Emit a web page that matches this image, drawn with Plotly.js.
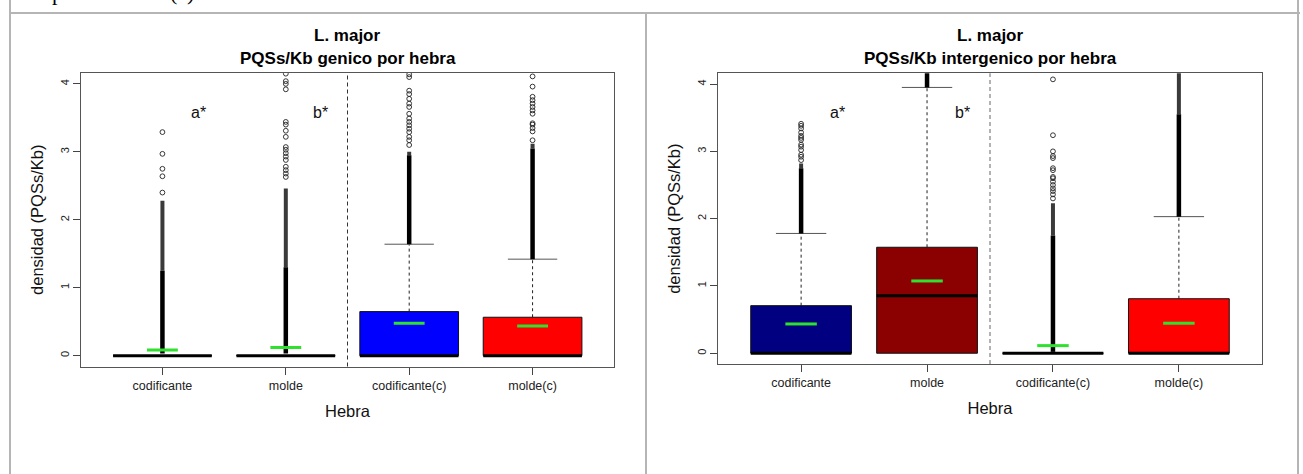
<!DOCTYPE html>
<html><head><meta charset="utf-8">
<script src="https://cdn.plot.ly/plotly-3.0.1.min.js"></script>
<style>
html,body{margin:0;padding:0;background:#fff;overflow:hidden;width:1303px;height:474px;}
#chart{position:absolute;left:0;top:0;width:1303px;height:474px;}
.b{position:absolute;background:#b5b5b5;}
.cut{position:absolute;font-family:'Liberation Serif',serif;font-size:22px;line-height:22px;color:#000;top:-18px;white-space:pre;}
</style></head><body>
<div id="chart"></div>
<div class="cut" style="left:52px">p</div>
<div class="cut" style="left:170px">(c)</div>
<div class="b" style="left:9px;top:0;width:2px;height:474px"></div>
<div class="b" style="left:9px;top:12px;width:1291px;height:2px"></div>
<div class="b" style="left:645px;top:12px;width:2px;height:462px"></div>
<div class="b" style="left:1297px;top:0;width:2px;height:474px"></div>
<script>
// ---- data ----
const categories = ['codificante','molde','codificante(c)','molde(c)'];
const yTicks = [0,1,2,3,4];

// Panel 1: PQSs/Kb genico por hebra
const genQ1     = [0, 0, 0, 0];
const genMedian = [0, 0, 0, 0];
const genQ3     = [0, 0, 0.648, 0.565];
const genUpper  = [0, 0, 1.64, 1.42];
const genMean   = [0.084, 0.118, 0.477, 0.437];
// outliers: solid (very dense) run, then lighter dense run, then individual points
const genDenseLo = [0.03, 0.03, 1.64, 1.42];
const genDenseHi = [1.25, 1.3, 2.95, 3.05];
const genSemiHi  = [2.28, 2.46, 3.0, 3.12];
const genOut1 = [2.4, 2.64, 2.75, 2.97, 3.29];
const genOut2 = [2.63, 2.68, 2.73, 2.78, 2.88, 2.93, 2.98, 3.03, 3.07, 3.22, 3.31, 3.40, 3.44, 3.92, 4.0, 4.04, 4.15];
const genOut3 = [3.1, 3.17, 3.22, 3.29, 3.34, 3.39, 3.44, 3.49, 3.56, 3.66, 3.71, 3.78, 3.85, 3.9, 4.1, 4.14];
const genOut4 = [3.17, 3.30, 3.35, 3.40, 3.42, 3.56, 3.61, 3.66, 3.71, 3.76, 3.81, 3.96, 4.11];

// Panel 2: PQSs/Kb intergenico por hebra
const intQ1     = [0, 0, 0, 0];
const intMedian = [0, 0.856, 0, 0];
const intQ3     = [0.707, 1.575, 0, 0.81];
const intUpper  = [1.78, 3.95, 0, 2.03];
const intMean   = [0.435, 1.074, 0.113, 0.446];
const intDenseLo = [1.78, 3.95, 0.02, 2.03];
const intDenseHi = [2.75, 4.3, 1.75, 3.55];
const intSemiHi  = [2.82, 4.3, 2.23, 4.3];
const intOut1 = [2.87, 2.92, 2.95, 3.02, 3.07, 3.10, 3.17, 3.20, 3.23, 3.28, 3.34, 3.38, 3.41];
const intOut2 = [];
const intOut3 = [2.3, 2.36, 2.41, 2.45, 2.5, 2.55, 2.6, 2.62, 2.72, 2.75, 2.9, 2.93, 3.0, 3.24, 4.07];
const intOut4 = [];

const sigLabels = ['a*', 'b*'];
const sigX = [1.29, 2.28];
const sigY = [3.58, 3.58];

// ---- styles ----
const fillColors = ['#000080', '#8B0000', '#0000FF', '#FF0000'];
const meanColor = '#2fe02f';
const FONT = 'Liberation Sans, Arial, sans-serif';

const traces = [];
function panel(xa, ya, q1, med, q3, up, mean, dLo, dHi, sHi, outs){
  const n = categories.length;
  for (let i = 0; i < n; i++){
    const c = i + 1;
    if (up[i] > q3[i]) {
      traces.push({type:'scatter', mode:'lines', xaxis:xa, yaxis:ya, x:[c,c], y:[q3[i],up[i]],
        line:{color:'#222', width:1, dash:'3px,3px'}, hoverinfo:'skip'});
    }
    traces.push({type:'scatter', mode:'lines', xaxis:xa, yaxis:ya, x:[c-0.2,c+0.2], y:[up[i],up[i]],
      line:{color:'#555', width:1}, hoverinfo:'skip'});
    traces.push({type:'scatter', mode:'lines', xaxis:xa, yaxis:ya,
      x:[c-0.4,c+0.4,c+0.4,c-0.4,c-0.4], y:[q1[i],q1[i],q3[i],q3[i],q1[i]],
      fill:'toself', fillcolor:fillColors[i], line:{color:'#111', width:1}, hoverinfo:'skip'});
    traces.push({type:'scatter', mode:'lines', xaxis:xa, yaxis:ya, x:[c-0.4,c+0.4], y:[med[i],med[i]],
      line:{color:'#000', width:3}, hoverinfo:'skip'});
    if (sHi[i] > dHi[i]) {
      traces.push({type:'scatter', mode:'lines', xaxis:xa, yaxis:ya, x:[c,c], y:[dHi[i],sHi[i]],
        line:{color:'#3a3a3a', width:4}, hoverinfo:'skip'});
    }
    traces.push({type:'scatter', mode:'lines', xaxis:xa, yaxis:ya, x:[c,c], y:[dLo[i],dHi[i]],
      line:{color:'#000', width:4.5}, hoverinfo:'skip'});
    if (outs[i].length) {
      traces.push({type:'scatter', mode:'markers', xaxis:xa, yaxis:ya, x:outs[i].map(()=>c), y:outs[i],
        marker:{symbol:'circle-open', size:4.8, color:'#222', line:{width:0.9}}, hoverinfo:'skip'});
    }
  }
  for (let i = 0; i < n; i++){
    const c = i + 1;
    traces.push({type:'scatter', mode:'lines', xaxis:xa, yaxis:ya, x:[c-0.125,c+0.125], y:[mean[i],mean[i]],
      line:{color:meanColor, width:3}, hoverinfo:'skip'});
  }
}
panel('x','y', genQ1, genMedian, genQ3, genUpper, genMean, genDenseLo, genDenseHi, genSemiHi, [genOut1,genOut2,genOut3,genOut4]);
panel('x2','y2', intQ1, intMedian, intQ3, intUpper, intMean, intDenseLo, intDenseHi, intSemiHi, [intOut1,intOut2,intOut3,intOut4]);

const W = 1303, H = 474;
function xax(d){
  return {domain:d, range:[0.34,4.66], tickvals:[1,2,3,4], ticktext:categories,
    ticks:'outside', ticklen:7, tickcolor:'#444', showline:true, linecolor:'#555', linewidth:1, mirror:true,
    showgrid:false, zeroline:false, tickfont:{family:FONT, size:12.5, color:'#222'},
    title:{text:'Hebra', font:{family:FONT, size:16.5, color:'#111'}, standoff:13}, fixedrange:true};
}
function yax(d, anchor){
  return {domain:d, range:[-0.16,4.16], tickvals:yTicks, ticktext:yTicks.map(String), tickangle:-90,
    ticks:'outside', ticklen:7, tickcolor:'#444', showline:true, linecolor:'#555', linewidth:1, mirror:true,
    showgrid:false, zeroline:false, tickfont:{family:FONT, size:11, color:'#222'},
    title:{text:'densidad (PQSs/Kb)', font:{family:FONT, size:16.5, color:'#111'}, standoff:10},
    anchor:anchor, fixedrange:true};
}

const layout = {
  width:W, height:H, margin:{l:0,r:0,t:0,b:0}, paper_bgcolor:'#fff', plot_bgcolor:'#fff',
  showlegend:false, hovermode:false,
  xaxis: Object.assign(xax([81/W, 614/W]), {anchor:'y'}),
  yaxis: yax([1-366.5/H, 1-73/H], 'x'),
  xaxis2: Object.assign(xax([718/W, 1262/W]), {anchor:'y2'}),
  yaxis2: yax([1-364/H, 1-73.3/H], 'x2'),
  shapes: [
    {type:'line', xref:'x', yref:'y domain', x0:2.5, x1:2.5, y0:0, y1:1, line:{color:'#333', width:1, dash:'4px,3px'}},
    {type:'line', xref:'x2', yref:'y2 domain', x0:2.5, x1:2.5, y0:0, y1:1, line:{color:'#666', width:1, dash:'4px,3px'}}
  ],
  annotations: []
};
const titles = [['x','L. major','PQSs/Kb genico por hebra'], ['x2','L. major','PQSs/Kb intergenico por hebra']];
titles.forEach(t => {
  layout.annotations.push({xref:t[0]+' domain', yref:'paper', x:0.5, y:1-36/H, yanchor:'middle', showarrow:false,
    text:'<b>'+t[1]+'</b>', font:{family:FONT, size:17, color:'#000'}});
  layout.annotations.push({xref:t[0]+' domain', yref:'paper', x:0.5, y:1-58/H, yanchor:'middle', showarrow:false,
    text:'<b>'+t[2]+'</b>', font:{family:FONT, size:17, color:'#000'}});
});
[['x','y'],['x2','y2']].forEach(ax => {
  sigLabels.forEach((s,i) => {
    layout.annotations.push({xref:ax[0], yref:ax[1], x:sigX[i], y:sigY[i], showarrow:false, text:s,
      font:{family:FONT, size:16, color:'#111'}});
  });
});

Plotly.newPlot('chart', traces, layout, {staticPlot:true, displayModeBar:false});
</script>
</body></html>
